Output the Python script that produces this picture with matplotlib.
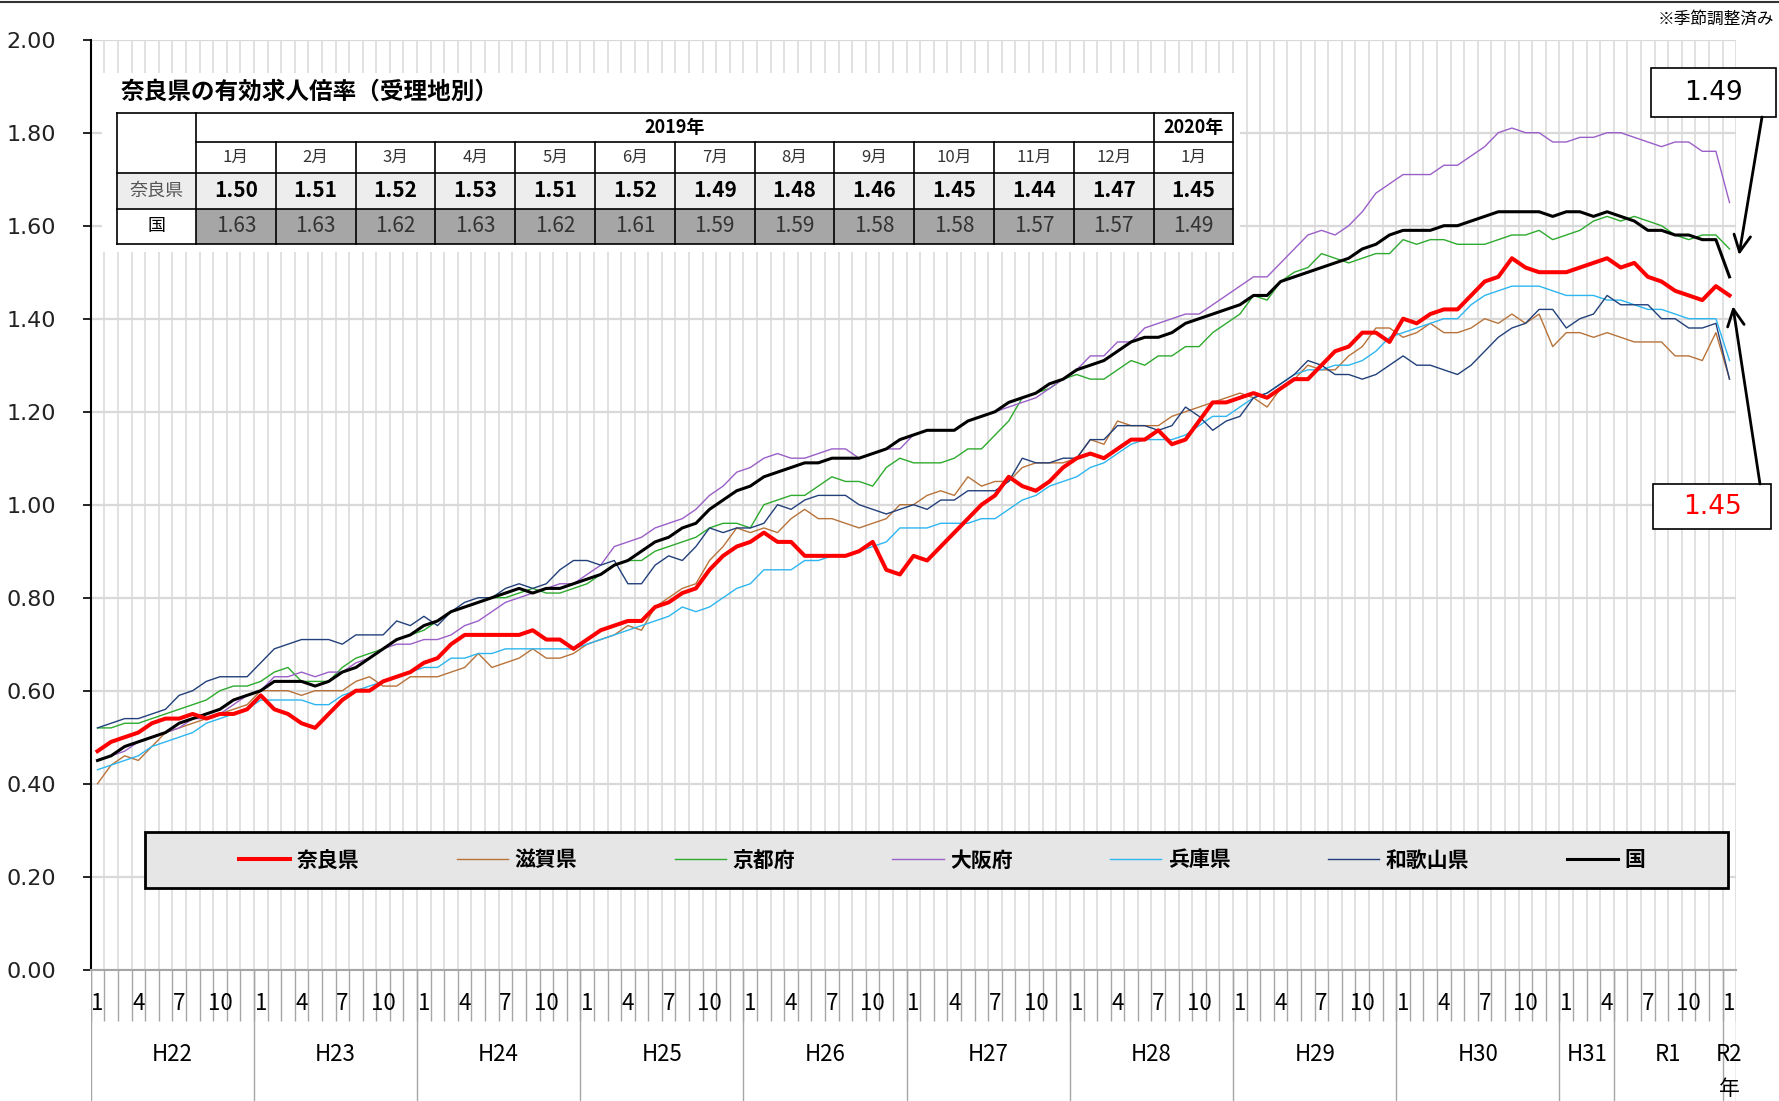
import numpy as np
import matplotlib
matplotlib.use('Agg')
from matplotlib import pyplot as plt
from matplotlib.patches import Rectangle

plt.rcParams['font.family'] = ['Noto Sans CJK JP', 'DejaVu Sans']

# 月次データ H22.1 ～ R2.1 (121か月)
nara = [0.47, 0.49, 0.50, 0.51, 0.53, 0.54, 0.54, 0.55, 0.54, 0.55, 0.55, 0.56, 0.59, 0.56, 0.55, 0.53, 0.52, 0.55, 0.58, 0.60, 0.60, 0.62, 0.63, 0.64, 0.66, 0.67,
        0.70, 0.72, 0.72, 0.72, 0.72, 0.72, 0.73, 0.71, 0.71, 0.69, 0.71, 0.73, 0.74, 0.75, 0.75, 0.78, 0.79, 0.81, 0.82, 0.86, 0.89, 0.91, 0.92,
        0.94, 0.92, 0.92, 0.89, 0.89, 0.89, 0.89, 0.90, 0.92, 0.86, 0.85, 0.89, 0.88, 0.91, 0.94, 0.97, 1.00, 1.02, 1.06, 1.04, 1.03, 1.05, 1.08, 1.10,
        1.11, 1.10, 1.12, 1.14, 1.14, 1.16, 1.13, 1.14, 1.18, 1.22, 1.22, 1.23, 1.24, 1.23, 1.25, 1.27, 1.27, 1.30, 1.33, 1.34, 1.37, 1.37, 1.35, 1.40,
        1.39, 1.41, 1.42, 1.42, 1.45, 1.48, 1.49, 1.53, 1.51, 1.50, 1.50,
        1.50, 1.51, 1.52, 1.53, 1.51, 1.52, 1.49, 1.48, 1.46, 1.45, 1.44, 1.47, 1.45]
shiga = [0.40, 0.44, 0.46, 0.45, 0.48, 0.51, 0.52, 0.53, 0.54, 0.55, 0.56, 0.57, 0.60, 0.60, 0.60, 0.59, 0.60, 0.60, 0.60, 0.62, 0.63, 0.61, 0.61, 0.63, 0.63, 0.63,
         0.64, 0.65, 0.68, 0.65, 0.66, 0.67, 0.69, 0.67, 0.67, 0.68, 0.70, 0.71, 0.72, 0.74, 0.73, 0.78, 0.80, 0.82, 0.83, 0.88, 0.91, 0.95, 0.94,
         0.95, 0.94, 0.97, 0.99, 0.97, 0.97, 0.96, 0.95, 0.96, 0.97, 1.00, 1.00, 1.02, 1.03, 1.02, 1.06, 1.04, 1.05, 1.05, 1.08, 1.09, 1.09, 1.09, 1.10,
         1.14, 1.13, 1.18, 1.17, 1.17, 1.17, 1.19, 1.20, 1.21, 1.22, 1.23, 1.24, 1.23, 1.21, 1.25, 1.27, 1.30, 1.29, 1.29, 1.32, 1.34, 1.38, 1.38, 1.36,
         1.37, 1.39, 1.37, 1.37, 1.38, 1.40, 1.39, 1.41, 1.39, 1.41, 1.34,
         1.37, 1.37, 1.36, 1.37, 1.36, 1.35, 1.35, 1.35, 1.32, 1.32, 1.31, 1.37, 1.27]
kyoto = [0.52, 0.52, 0.53, 0.53, 0.54, 0.55, 0.56, 0.57, 0.58, 0.60, 0.61, 0.61, 0.62, 0.64, 0.65, 0.62, 0.62, 0.62, 0.65, 0.67, 0.68, 0.69, 0.71, 0.72, 0.73, 0.75,
         0.77, 0.78, 0.79, 0.80, 0.80, 0.81, 0.82, 0.81, 0.81, 0.82, 0.83, 0.85, 0.87, 0.88, 0.88, 0.90, 0.91, 0.92, 0.93, 0.95, 0.96, 0.96, 0.95,
         1.00, 1.01, 1.02, 1.02, 1.04, 1.06, 1.05, 1.05, 1.04, 1.08, 1.10, 1.09, 1.09, 1.09, 1.10, 1.12, 1.12, 1.15, 1.18, 1.23, 1.24, 1.25, 1.27, 1.28,
         1.27, 1.27, 1.29, 1.31, 1.30, 1.32, 1.32, 1.34, 1.34, 1.37, 1.39, 1.41, 1.45, 1.44, 1.48, 1.50, 1.51, 1.54, 1.53, 1.52, 1.53, 1.54, 1.54, 1.57,
         1.56, 1.57, 1.57, 1.56, 1.56, 1.56, 1.57, 1.58, 1.58, 1.59, 1.57,
         1.58, 1.59, 1.61, 1.62, 1.61, 1.62, 1.61, 1.60, 1.58, 1.57, 1.58, 1.58, 1.55]
osaka = [0.45, 0.46, 0.47, 0.49, 0.50, 0.51, 0.52, 0.54, 0.54, 0.55, 0.57, 0.59, 0.60, 0.63, 0.63, 0.64, 0.63, 0.64, 0.64, 0.66, 0.67, 0.69, 0.70, 0.70, 0.71, 0.71,
         0.72, 0.74, 0.75, 0.77, 0.79, 0.80, 0.81, 0.82, 0.83, 0.83, 0.85, 0.87, 0.91, 0.92, 0.93, 0.95, 0.96, 0.97, 0.99, 1.02, 1.04, 1.07, 1.08,
         1.10, 1.11, 1.10, 1.10, 1.11, 1.12, 1.12, 1.10, 1.11, 1.12, 1.12, 1.15, 1.16, 1.16, 1.16, 1.18, 1.19, 1.20, 1.21, 1.22, 1.23, 1.25, 1.27, 1.29,
         1.32, 1.32, 1.35, 1.35, 1.38, 1.39, 1.40, 1.41, 1.41, 1.43, 1.45, 1.47, 1.49, 1.49, 1.52, 1.55, 1.58, 1.59, 1.58, 1.60, 1.63, 1.67, 1.69, 1.71,
         1.71, 1.71, 1.73, 1.73, 1.75, 1.77, 1.80, 1.81, 1.80, 1.80, 1.78,
         1.78, 1.79, 1.79, 1.80, 1.80, 1.79, 1.78, 1.77, 1.78, 1.78, 1.76, 1.76, 1.65]
hyogo = [0.43, 0.44, 0.45, 0.46, 0.48, 0.49, 0.50, 0.51, 0.53, 0.54, 0.55, 0.56, 0.58, 0.58, 0.58, 0.58, 0.57, 0.57, 0.59, 0.60, 0.61, 0.62, 0.63, 0.64, 0.65, 0.65,
         0.67, 0.67, 0.68, 0.68, 0.69, 0.69, 0.69, 0.69, 0.69, 0.69, 0.70, 0.71, 0.72, 0.73, 0.74, 0.75, 0.76, 0.78, 0.77, 0.78, 0.80, 0.82, 0.83,
         0.86, 0.86, 0.86, 0.88, 0.88, 0.89, 0.89, 0.90, 0.91, 0.92, 0.95, 0.95, 0.95, 0.96, 0.96, 0.96, 0.97, 0.97, 0.99, 1.01, 1.02, 1.04, 1.05, 1.06,
         1.08, 1.09, 1.11, 1.13, 1.14, 1.14, 1.14, 1.15, 1.17, 1.19, 1.19, 1.21, 1.23, 1.24, 1.26, 1.28, 1.29, 1.29, 1.30, 1.30, 1.31, 1.33, 1.36, 1.37,
         1.38, 1.39, 1.40, 1.40, 1.43, 1.45, 1.46, 1.47, 1.47, 1.47, 1.46,
         1.45, 1.45, 1.45, 1.44, 1.44, 1.43, 1.42, 1.42, 1.41, 1.40, 1.40, 1.40, 1.31]
wakayama = [0.52, 0.53, 0.54, 0.54, 0.55, 0.56, 0.59, 0.60, 0.62, 0.63, 0.63, 0.63, 0.66, 0.69, 0.70, 0.71, 0.71, 0.71, 0.70, 0.72, 0.72, 0.72, 0.75, 0.74, 0.76, 0.74,
            0.77, 0.79, 0.80, 0.80, 0.82, 0.83, 0.82, 0.83, 0.86, 0.88, 0.88, 0.87, 0.88, 0.83, 0.83, 0.87, 0.89, 0.88, 0.91, 0.95, 0.94, 0.95, 0.95,
            0.96, 1.00, 0.99, 1.01, 1.02, 1.02, 1.02, 1.00, 0.99, 0.98, 0.99, 1.00, 0.99, 1.01, 1.01, 1.03, 1.03, 1.03, 1.05, 1.10, 1.09, 1.09, 1.10, 1.10,
            1.14, 1.14, 1.17, 1.17, 1.17, 1.16, 1.17, 1.21, 1.19, 1.16, 1.18, 1.19, 1.23, 1.24, 1.26, 1.28, 1.31, 1.30, 1.28, 1.28, 1.27, 1.28, 1.30, 1.32,
            1.30, 1.30, 1.29, 1.28, 1.30, 1.33, 1.36, 1.38, 1.39, 1.42, 1.42,
            1.38, 1.40, 1.41, 1.45, 1.43, 1.43, 1.43, 1.40, 1.40, 1.38, 1.38, 1.39, 1.27]
kuni = [0.45, 0.46, 0.48, 0.49, 0.50, 0.51, 0.53, 0.54, 0.55, 0.56, 0.58, 0.59, 0.60, 0.62, 0.62, 0.62, 0.61, 0.62, 0.64, 0.65, 0.67, 0.69, 0.71, 0.72, 0.74, 0.75,
        0.77, 0.78, 0.79, 0.80, 0.81, 0.82, 0.81, 0.82, 0.82, 0.83, 0.84, 0.85, 0.87, 0.88, 0.90, 0.92, 0.93, 0.95, 0.96, 0.99, 1.01, 1.03, 1.04,
        1.06, 1.07, 1.08, 1.09, 1.09, 1.10, 1.10, 1.10, 1.11, 1.12, 1.14, 1.15, 1.16, 1.16, 1.16, 1.18, 1.19, 1.20, 1.22, 1.23, 1.24, 1.26, 1.27, 1.29,
        1.30, 1.31, 1.33, 1.35, 1.36, 1.36, 1.37, 1.39, 1.40, 1.41, 1.42, 1.43, 1.45, 1.45, 1.48, 1.49, 1.50, 1.51, 1.52, 1.53, 1.55, 1.56, 1.58, 1.59,
        1.59, 1.59, 1.60, 1.60, 1.61, 1.62, 1.63, 1.63, 1.63, 1.63, 1.62,
        1.63, 1.63, 1.62, 1.63, 1.62, 1.61, 1.59, 1.59, 1.58, 1.58, 1.57, 1.57, 1.49]

years = ['H22', 'H23', 'H24', 'H25', 'H26', 'H27', 'H28', 'H29', 'H30', 'H31', 'R1', 'R2']
year_months = [12, 12, 12, 12, 12, 12, 12, 12, 12, 4, 8, 1]
month_no = [(i % 12) + 1 for i in range(121)]

tbl_months = ['1月', '2月', '3月', '4月', '5月', '6月', '7月', '8月', '9月', '10月', '11月', '12月', '1月']

series = [
    ('奈良県', nara, '#ff0000', 2.9, 10),
    ('滋賀県', shiga, '#b8733a', 1.0, 3),
    ('京都府', kyoto, '#2eaa2e', 1.0, 3),
    ('大阪府', osaka, '#9b5fc8', 1.0, 3),
    ('兵庫県', hyogo, '#2db6f0', 1.0, 3),
    ('和歌山県', wakayama, '#22407a', 1.0, 4),
    ('国', kuni, '#000000', 2.2, 8),
]

W, H = 1779, 1101
fig = plt.figure(figsize=(W / 100, H / 100), dpi=100)

# グラフ本体
L, R, T, B = 90.7, 1736.3, 39.7, 969.7
ax = fig.add_axes([L / W, 1 - B / H, (R - L) / W, (B - T) / H])
x = np.arange(len(nara))
lines = []
for name, vals, col, lw, z in series:
    ln, = ax.plot(x, vals, color=col, lw=lw, zorder=z, label=name, solid_joinstyle='round')
    lines.append(ln)
ax.set_xlim(-0.5, len(nara) - 0.5)
ax.set_ylim(0, 2.0)
ax.set_yticks(np.arange(0, 2.01, 0.2))
ax.set_yticklabels([f'{v:.2f}' for v in np.arange(0, 2.01, 0.2)], family='DejaVu Sans', fontsize=16, color='#222222')
ax.set_xticks(np.arange(0.5, len(nara), 1))
ax.tick_params(axis='x', length=0, labelbottom=False)
ax.tick_params(axis='y', length=6, width=1.2, pad=19, direction='out')
ax.yaxis.grid(True, color='#d9d9d9', lw=1.6)
ax.xaxis.grid(True, color='#d9d9d9', lw=1.1)
ax.set_axisbelow(True)
ax.spines['top'].set_visible(False)
ax.spines['right'].set_visible(False)
ax.spines['left'].set_linewidth(1.5)
ax.spines['bottom'].set_color('#a6a6a6')
ax.spines['bottom'].set_linewidth(1.5)

# 横軸（月・年）
ax2 = fig.add_axes([L / W, 0, (R - L) / W, 1 - B / H])
ax2.set_xlim(-0.5, len(nara) - 0.5)
ax2.set_ylim(1, 0)
ax2.axis('off')
ax2.vlines(np.arange(-0.5, len(nara)), 0, 0.39, color='#a6a6a6', lw=1)
bounds = np.concatenate([[0], np.cumsum(year_months)]) - 0.5
ax2.vlines(bounds, 0, 1, color='#a6a6a6', lw=1)
for i, m in enumerate(month_no):
    if m in (1, 4, 7, 10):
        ax2.text(i, 0.26, str(m), ha='center', va='center', fontsize=16)
centers = (bounds[:-1] + bounds[1:]) / 2
for c, yl in zip(centers, years):
    ax2.text(c, 0.645, yl, ha='center', va='center', fontsize=16)
ax2.text(centers[-1], 0.91, '年', ha='center', va='center', fontsize=15)

# 上に重ねる要素
ov = fig.add_axes([0, 0, 1, 1])
ov.set_xlim(0, W)
ov.set_ylim(H, 0)
ov.axis('off')
ov.patch.set_alpha(0)
ov.set_zorder(5)

ov.plot([0, W], [2, 2], color='#333333', lw=1.5)
ov.text(1774, 19, '※季節調整済み', ha='right', va='center', fontsize=12)

# 表
ov.add_patch(Rectangle((102, 73), 1138, 179, fc='white', ec='none'))
ov.text(121, 92, '奈良県の有効求人倍率（受理地別）', fontsize=17, fontweight='bold', ha='left', va='center')
cx = [117, 196] + [196 + 79.8 * k for k in range(1, 14)]
ry = [113, 142, 172.5, 209, 244]
ov.add_patch(Rectangle((cx[0], ry[2]), cx[-1] - cx[0], ry[3] - ry[2], fc='#ededed', ec='none'))
ov.add_patch(Rectangle((cx[1], ry[3]), cx[-1] - cx[1], ry[4] - ry[3], fc='#a6a6a6', ec='none'))
lk = dict(color='black', lw=1.2)
for yy in ry:
    x0 = cx[0] if yy in (ry[0], ry[2], ry[3], ry[4]) else cx[1]
    ov.plot([x0, cx[-1]], [yy, yy], **lk)
ov.plot([cx[0], cx[0]], [ry[0], ry[4]], **lk)
ov.plot([cx[1], cx[1]], [ry[0], ry[4]], **lk)
ov.plot([cx[-1], cx[-1]], [ry[0], ry[4]], **lk)
ov.plot([cx[-2], cx[-2]], [ry[0], ry[4]], **lk)
for xx in cx[2:-2]:
    ov.plot([xx, xx], [ry[1], ry[4]], **lk)
ov.text((cx[1] + cx[-2]) / 2, (ry[0] + ry[1]) / 2, '2019年', ha='center', va='center', fontsize=13, fontweight='bold')
ov.text((cx[-2] + cx[-1]) / 2, (ry[0] + ry[1]) / 2, '2020年', ha='center', va='center', fontsize=13, fontweight='bold')
ov.text((cx[0] + cx[1]) / 2, (ry[2] + ry[3]) / 2, '奈良県', ha='center', va='center', fontsize=13, color='#555555')
ov.text((cx[0] + cx[1]) / 2, (ry[3] + ry[4]) / 2, '国', ha='center', va='center', fontsize=13)
for k in range(13):
    xc = (cx[k + 1] + cx[k + 2]) / 2
    ov.text(xc, (ry[1] + ry[2]) / 2, tbl_months[k], ha='center', va='center', fontsize=12, color='#333333')
    ov.text(xc, (ry[2] + ry[3]) / 2, f'{nara[-13 + k]:.2f}', ha='center', va='center', fontsize=15, fontweight='bold')
    ov.text(xc, (ry[3] + ry[4]) / 2, f'{kuni[-13 + k]:.2f}', ha='center', va='center', fontsize=15, color='#333333')

# 凡例
ov.add_patch(Rectangle((145, 832), 1583, 56, fc='#e6e6e6', ec='black', lw=2))
ov.legend(handles=lines, labels=[s[0] for s in series], loc='center', bbox_to_anchor=(942 / W, 1 - 860 / H),
          ncol=7, frameon=False, prop={'size': 15, 'weight': 'bold'}, handlelength=2.45,
          handletextpad=0.3, columnspacing=4.7)

# 吹き出し
ov.add_patch(Rectangle((1651, 68), 125, 49, fc='white', ec='black', lw=1.2))
ov.text(1713.5, 93, f'{kuni[-1]:.2f}', ha='center', va='center', fontsize=19, family='DejaVu Sans')
ov.add_patch(Rectangle((1653, 484), 118, 45, fc='white', ec='black', lw=1.2))
ov.text(1712, 507, f'{nara[-1]:.2f}', ha='center', va='center', fontsize=19, family='DejaVu Sans', color='red')
ap = dict(arrowstyle='->', color='black', lw=2, mutation_scale=30, shrinkA=0, shrinkB=0)
ov.annotate('', xy=(len(kuni) - 0.3, kuni[-1] + 0.047), xycoords=ax.transData, xytext=(1762, 117), textcoords='data', arrowprops=ap)
ov.annotate('', xy=(len(nara) - 0.75, nara[-1] - 0.023), xycoords=ax.transData, xytext=(1760, 484), textcoords='data', arrowprops=ap)

fig.savefig('out.png', dpi=100)
